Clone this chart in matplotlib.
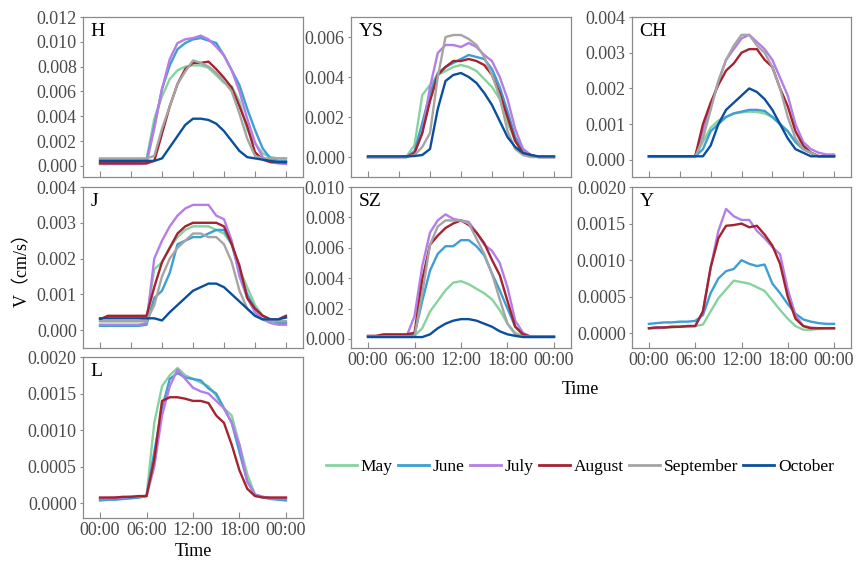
import numpy as np
import matplotlib
matplotlib.use("Agg")
import matplotlib.pyplot as plt
from matplotlib.ticker import FormatStrFormatter
from matplotlib.lines import Line2D

plt.rcParams['font.family'] = ['Liberation Serif', 'DejaVu Serif']

# hourly mean values, 00:00 .. 24:00
hours = np.arange(25)

months = ['May', 'June', 'July', 'August', 'September', 'October']
colors = ['#86d3a0', '#3d9fd3', '#b57de6', '#a3232f', '#a5a5a5', '#0b4f9c']

# ---- H ----
H_may = [0.0005, 0.0005, 0.0005, 0.0005, 0.0005, 0.0005, 0.0005, 0.0038, 0.0056, 0.0070, 0.0077, 0.0080, 0.0081,
         0.0081, 0.0079, 0.0073, 0.0067, 0.0064, 0.0052, 0.0029, 0.0018, 0.0010, 0.0007, 0.0006, 0.0006]
H_jun = [0.0003, 0.0003, 0.0003, 0.0003, 0.0003, 0.0003, 0.0004, 0.0032, 0.0062, 0.0081, 0.0094, 0.0099, 0.0102,
         0.0103, 0.0101, 0.0099, 0.0089, 0.0077, 0.0065, 0.0046, 0.0029, 0.0014, 0.0006, 0.0004, 0.0004]
H_jul = [0.00015, 0.00015, 0.00015, 0.00015, 0.00015, 0.00015, 0.0002, 0.0030, 0.0062, 0.0086, 0.0099, 0.0102, 0.0103,
         0.0105, 0.0102, 0.0096, 0.0089, 0.0077, 0.0060, 0.0038, 0.0019, 0.0007, 0.0003, 0.0002, 0.00015]
H_aug = [0.0002, 0.0002, 0.0002, 0.0002, 0.0002, 0.0002, 0.0002, 0.0004, 0.0026, 0.0048, 0.0066, 0.0078, 0.0083,
         0.0083, 0.0084, 0.0078, 0.0071, 0.0063, 0.0048, 0.0032, 0.0011, 0.0005, 0.0003, 0.0003, 0.0003]
H_sep = [0.0006, 0.0006, 0.0006, 0.0006, 0.0006, 0.0006, 0.0006, 0.0008, 0.0030, 0.0048, 0.0066, 0.0076, 0.0085,
         0.0083, 0.0080, 0.0075, 0.0068, 0.0060, 0.0042, 0.0022, 0.0008, 0.0006, 0.0006, 0.0006, 0.0006]
H_oct = [0.0004, 0.0004, 0.0004, 0.0004, 0.0004, 0.0004, 0.0004, 0.0004, 0.0006, 0.0015, 0.0024, 0.0033, 0.0038,
         0.0038, 0.0037, 0.0034, 0.0028, 0.0020, 0.0012, 0.0007, 0.0006, 0.0005, 0.0004, 0.0003, 0.0003]

# ---- YS ----
YS_may = [0.0, 0.0, 0.0, 0.0, 0.0, 0.00005, 0.0006, 0.0031, 0.0036, 0.0041, 0.0043, 0.0045, 0.0046,
          0.0045, 0.0043, 0.0039, 0.0035, 0.0029, 0.0017, 0.0008, 0.0003, 0.0001, 0.0, 0.0, 0.0]
YS_jun = [0.0, 0.0, 0.0, 0.0, 0.0, 0.0, 0.0003, 0.0017, 0.0032, 0.0042, 0.0045, 0.0047, 0.0049,
          0.0051, 0.0050, 0.0049, 0.0044, 0.0035, 0.0023, 0.0010, 0.0004, 0.0001, 0.0, 0.0, 0.0]
YS_jul = [0.0, 0.0, 0.0, 0.0, 0.0, 0.0, 0.0002, 0.0012, 0.0035, 0.0052, 0.0056, 0.0056, 0.0055,
          0.0057, 0.0055, 0.0051, 0.0048, 0.0040, 0.0029, 0.0014, 0.0004, 0.0001, 0.0, 0.0, 0.0]
YS_aug = [0.0, 0.0, 0.0, 0.0, 0.0, 0.0, 0.0002, 0.0012, 0.0028, 0.0041, 0.0045, 0.0048, 0.0048,
          0.0049, 0.0048, 0.0046, 0.0041, 0.0032, 0.0020, 0.0008, 0.0002, 0.0001, 0.0, 0.0, 0.0]
YS_sep = [0.0, 0.0, 0.0, 0.0, 0.0, 0.0, 0.0001, 0.0005, 0.0012, 0.0040, 0.0060, 0.0061, 0.0061,
          0.0059, 0.0056, 0.0050, 0.0041, 0.0030, 0.0013, 0.0004, 0.0001, 0.0, 0.0, 0.0, 0.0]
YS_oct = [0.00003, 0.00003, 0.00003, 0.00003, 0.00003, 0.00003, 0.00005, 0.0001, 0.0004, 0.0024, 0.0038, 0.0041, 0.0042,
          0.0040, 0.0037, 0.0032, 0.0026, 0.0018, 0.0010, 0.0005, 0.0002, 0.0001, 0.00003, 0.00003, 0.00003]

# ---- CH ----
CH_may = [0.0001, 0.0001, 0.0001, 0.0001, 0.0001, 0.0001, 0.0001, 0.0005, 0.0009, 0.0011, 0.0012, 0.0013, 0.00133,
          0.00135, 0.00134, 0.0013, 0.0012, 0.0010, 0.0008, 0.0005, 0.0003, 0.0002, 0.0001, 0.0001, 0.0001]
CH_jun = [0.0001, 0.0001, 0.0001, 0.0001, 0.0001, 0.0001, 0.0001, 0.0003, 0.0008, 0.0010, 0.0012, 0.0013, 0.00135,
          0.0014, 0.0014, 0.00137, 0.0012, 0.0010, 0.0008, 0.0005, 0.0003, 0.0002, 0.0001, 0.0001, 0.0001]
CH_jul = [0.0001, 0.0001, 0.0001, 0.0001, 0.0001, 0.0001, 0.0001, 0.0008, 0.0015, 0.0022, 0.0028, 0.0031, 0.0034,
          0.0035, 0.0033, 0.0031, 0.0028, 0.0023, 0.0018, 0.0010, 0.0005, 0.0003, 0.0002, 0.00015, 0.00015]
CH_aug = [0.0001, 0.0001, 0.0001, 0.0001, 0.0001, 0.0001, 0.0001, 0.0010, 0.0016, 0.0021, 0.0025, 0.0027, 0.0030,
          0.0031, 0.0031, 0.0028, 0.0026, 0.0020, 0.0015, 0.0008, 0.0004, 0.0002, 0.0001, 0.0001, 0.0001]
CH_sep = [0.00008, 0.00008, 0.00008, 0.00008, 0.00008, 0.00008, 0.00008, 0.0006, 0.0014, 0.0022, 0.0028, 0.0032, 0.0035,
          0.0035, 0.0032, 0.0030, 0.0026, 0.0020, 0.0012, 0.0006, 0.0003, 0.0002, 0.0001, 0.0001, 0.0001]
CH_oct = [0.0001, 0.0001, 0.0001, 0.0001, 0.0001, 0.0001, 0.0001, 0.0001, 0.0004, 0.0010, 0.0014, 0.0016, 0.0018,
          0.0020, 0.0019, 0.0017, 0.0014, 0.0010, 0.0006, 0.0003, 0.0002, 0.0001, 0.0001, 0.0001, 0.0001]

# ---- J ----
J_may = [0.00025, 0.00025, 0.00025, 0.00025, 0.00025, 0.00025, 0.0003, 0.0017, 0.0019, 0.0023, 0.0026, 0.0028, 0.0029,
         0.0029, 0.0029, 0.0028, 0.0027, 0.0024, 0.0017, 0.0012, 0.0007, 0.0004, 0.0003, 0.0002, 0.0002]
J_jun = [0.00012, 0.00012, 0.00012, 0.00012, 0.00012, 0.00012, 0.00015, 0.0009, 0.0011, 0.0016, 0.0024, 0.0025, 0.0026,
         0.0026, 0.0027, 0.0028, 0.0028, 0.0024, 0.0016, 0.0010, 0.0006, 0.0004, 0.0003, 0.0002, 0.0002]
J_jul = [0.00015, 0.00015, 0.00015, 0.00015, 0.00015, 0.00015, 0.0002, 0.0020, 0.0025, 0.0029, 0.0032, 0.0034, 0.0035,
         0.0035, 0.0035, 0.0032, 0.0031, 0.0025, 0.0015, 0.0009, 0.0005, 0.0003, 0.0002, 0.00015, 0.00015]
J_aug = [0.0003, 0.0004, 0.0004, 0.0004, 0.0004, 0.0004, 0.0004, 0.0012, 0.0019, 0.0023, 0.0027, 0.0029, 0.0030,
         0.0030, 0.0030, 0.0030, 0.0029, 0.0024, 0.0018, 0.0009, 0.0006, 0.0004, 0.0003, 0.0003, 0.0004]
J_sep = [0.00025, 0.00025, 0.00025, 0.00025, 0.00025, 0.00025, 0.00025, 0.0007, 0.0015, 0.0020, 0.0023, 0.0025, 0.0027,
         0.0027, 0.0026, 0.0026, 0.0024, 0.0019, 0.0011, 0.0006, 0.0004, 0.0003, 0.00025, 0.00025, 0.00025]
J_oct = [0.00033, 0.00033, 0.00033, 0.00033, 0.00033, 0.00033, 0.00033, 0.00033, 0.00027, 0.0005, 0.0007, 0.0009, 0.0011,
         0.0012, 0.0013, 0.0013, 0.0012, 0.0010, 0.0008, 0.0006, 0.0004, 0.0003, 0.0003, 0.0003, 0.00035]

# ---- SZ ----
SZ_may = [0.00015, 0.00015, 0.00015, 0.00015, 0.00015, 0.00015, 0.0002, 0.0007, 0.0018, 0.0025, 0.0032, 0.0037, 0.0038,
          0.0036, 0.0033, 0.0030, 0.0026, 0.0019, 0.0010, 0.0004, 0.0002, 0.00015, 0.00015, 0.00015, 0.00015]
SZ_jun = [0.00015, 0.00015, 0.00015, 0.00015, 0.00015, 0.00015, 0.0003, 0.0025, 0.0045, 0.0056, 0.0061, 0.0061, 0.0065,
          0.0065, 0.0061, 0.0055, 0.0043, 0.0032, 0.0020, 0.0008, 0.0003, 0.00015, 0.00015, 0.00015, 0.00015]
SZ_jul = [0.00015, 0.00015, 0.00015, 0.00015, 0.00015, 0.0002, 0.0015, 0.0048, 0.0070, 0.0078, 0.0082, 0.0079, 0.0078,
          0.0077, 0.0070, 0.0062, 0.0058, 0.0050, 0.0034, 0.0012, 0.0004, 0.00015, 0.00015, 0.00015, 0.00015]
SZ_aug = [0.0002, 0.0002, 0.0003, 0.0003, 0.0003, 0.0003, 0.0004, 0.0039, 0.0062, 0.0068, 0.0073, 0.0076, 0.0078,
          0.0075, 0.0070, 0.0063, 0.0052, 0.0042, 0.0025, 0.0008, 0.0003, 0.00015, 0.00015, 0.00015, 0.00015]
SZ_sep = [0.00015, 0.00015, 0.00015, 0.00015, 0.00015, 0.00015, 0.00015, 0.0030, 0.0062, 0.0074, 0.0078, 0.0078, 0.0078,
          0.0076, 0.0066, 0.0056, 0.0043, 0.0026, 0.0010, 0.0003, 0.00015, 0.00015, 0.00015, 0.00015, 0.00015]
SZ_oct = [0.00012, 0.00012, 0.00012, 0.00012, 0.00012, 0.00012, 0.00012, 0.00012, 0.0003, 0.0007, 0.0010, 0.0012, 0.0013,
          0.0013, 0.0012, 0.0010, 0.0008, 0.0005, 0.0003, 0.0002, 0.00012, 0.00012, 0.00012, 0.00012, 0.00012]

# ---- Y ----
Y_may = [0.00007, 0.00007, 0.00008, 0.00008, 0.00009, 0.00009, 0.0001, 0.00012, 0.0003, 0.00048, 0.0006, 0.00072, 0.0007,
         0.00068, 0.00063, 0.00058, 0.00045, 0.00032, 0.0002, 0.0001, 0.00005, 0.00005, 0.00006, 0.00007, 0.00007]
Y_jun = [0.00013, 0.00014, 0.00015, 0.00015, 0.00016, 0.00016, 0.00017, 0.00025, 0.00055, 0.00075, 0.00085, 0.00088, 0.0010,
         0.00095, 0.00092, 0.00094, 0.00068, 0.00055, 0.0004, 0.00027, 0.00019, 0.00016, 0.00014, 0.00013, 0.00013]
Y_jul = [0.00007, 0.00008, 0.00008, 0.00009, 0.00009, 0.0001, 0.0001, 0.0003, 0.0009, 0.0014, 0.0017, 0.0016, 0.00155,
         0.00155, 0.0014, 0.0013, 0.00118, 0.00108, 0.0006, 0.00025, 0.0001, 0.00008, 0.00007, 0.00007, 0.00007]
Y_aug = [0.00007, 0.00008, 0.00008, 0.00009, 0.00009, 0.0001, 0.0001, 0.0003, 0.0009, 0.0013, 0.00147, 0.00148, 0.0015,
         0.00145, 0.00147, 0.00135, 0.0012, 0.00095, 0.0005, 0.0002, 0.0001, 0.00007, 0.00007, 0.00007, 0.00007]

# ---- L ----
L_may = [0.00005, 0.00006, 0.00006, 0.00007, 0.00007, 0.00008, 0.0001, 0.0011, 0.0016, 0.00175, 0.00185, 0.00175, 0.0017,
         0.00165, 0.0016, 0.00147, 0.0013, 0.0012, 0.0008, 0.0004, 0.00012, 0.00009, 0.00007, 0.00006, 0.00005]
L_jun = [0.00004, 0.00005, 0.00005, 0.00006, 0.00007, 0.00008, 0.0001, 0.0007, 0.0013, 0.0017, 0.00178, 0.00172, 0.0017,
         0.00168, 0.00157, 0.0015, 0.0013, 0.0011, 0.0007, 0.0003, 0.00012, 0.00008, 0.00006, 0.00005, 0.00004]
L_jul = [0.00007, 0.00007, 0.00008, 0.00008, 0.00009, 0.00009, 0.0001, 0.0005, 0.0012, 0.0016, 0.00183, 0.0017, 0.00158,
         0.00153, 0.0015, 0.0014, 0.0013, 0.0011, 0.0008, 0.0003, 0.00012, 0.00009, 0.00007, 0.00007, 0.00007]
L_aug = [0.00008, 0.00008, 0.00008, 0.00009, 0.00009, 0.0001, 0.0001, 0.0006, 0.0014, 0.00145, 0.00145, 0.00143, 0.0014,
         0.0014, 0.00137, 0.0012, 0.0011, 0.0008, 0.00045, 0.0002, 0.0001, 0.00008, 0.00008, 0.00008, 0.00008]

# name, series, y-limits, y-ticks, tick format, axes rect in pixels (left, top, width, height), time labels
panels = [
    ('H', [H_may, H_jun, H_jul, H_aug, H_sep, H_oct], (-0.0009, 0.012), np.arange(0, 0.0121, 0.002), '%.3f', (83, 17, 220, 160), False),
    ('YS', [YS_may, YS_jun, YS_jul, YS_aug, YS_sep, YS_oct], (-0.001, 0.007), np.arange(0, 0.0061, 0.002), '%.3f', (351, 17, 220, 160), False),
    ('CH', [CH_may, CH_jun, CH_jul, CH_aug, CH_sep, CH_oct], (-0.00048, 0.004), np.arange(0, 0.00401, 0.001), '%.3f', (632, 17, 219, 160), False),
    ('J', [J_may, J_jun, J_jul, J_aug, J_sep, J_oct], (-0.0005, 0.004), np.arange(0, 0.00401, 0.001), '%.3f', (83, 187, 220, 161), False),
    ('SZ', [SZ_may, SZ_jun, SZ_jul, SZ_aug, SZ_sep, SZ_oct], (-0.0006, 0.010), np.arange(0, 0.01001, 0.002), '%.3f', (351, 187, 220, 161), True),
    ('Y', [Y_may, Y_jun, Y_jul, Y_aug], (-0.0002, 0.002), np.arange(0, 0.002001, 0.0005), '%.4f', (632, 187, 219, 161), True),
    ('L', [L_may, L_jun, L_jul, L_aug], (-0.0002, 0.002), np.arange(0, 0.002001, 0.0005), '%.4f', (83, 357, 220, 161), True),
]

W, Hpx = 856, 565
fig = plt.figure(figsize=(W / 100, Hpx / 100), dpi=100)

spine_col = '#8a8a8a'
tick_col = '#4a4a4a'
fs = 13

for name, series, ylim, yticks, fmt, (l, t, w, h), labelled in panels:
    ax = fig.add_axes([l / W, 1 - (t + h) / Hpx, w / W, h / Hpx])
    for vals, c in zip(series, colors):
        ax.plot(hours, vals, color=c, lw=1.7)
    ax.set_xlim(-2.2, 26.2)
    ax.set_ylim(*ylim)
    ax.set_yticks(yticks)
    ax.yaxis.set_major_formatter(FormatStrFormatter(fmt))
    if labelled:
        ax.set_xticks([0, 6, 12, 18, 24])
        ax.set_xticklabels(['00:00', '06:00', '12:00', '18:00', '00:00'])
    else:
        ax.set_xticks([0, 4, 8, 12, 16, 20, 24])
        ax.set_xticklabels([])
    ax.tick_params(axis='x', direction='in', length=4, width=0.8, color=spine_col,
                   labelsize=fs, labelcolor=tick_col, pad=3)
    ax.tick_params(axis='y', direction='out', length=2.5, width=0.8, color=spine_col,
                   labelsize=fs, labelcolor=tick_col, pad=2)
    for s in ax.spines.values():
        s.set_color(spine_col)
        s.set_linewidth(0.9)
    ax.text(0.035, 0.965, name, transform=ax.transAxes, ha='left', va='top', fontsize=14, color='black')

fig.text(22 / W, 1 - 265 / Hpx, 'V（cm/s）', rotation=90, ha='center', va='center', fontsize=13,
         family=['Liberation Serif', 'Noto Sans CJK SC'])
fig.text(193 / W, 1 - 551 / Hpx, 'Time', ha='center', va='center', fontsize=13)
fig.text(580 / W, 1 - 389 / Hpx, 'Time', ha='center', va='center', fontsize=13)

handles = [Line2D([], [], color=c, lw=2) for c in colors]
fig.legend(handles, months, loc='center', bbox_to_anchor=(580 / W, 1 - 467 / Hpx), ncol=6,
           frameon=False, fontsize=12.5, handlelength=1.8, handletextpad=0.2, columnspacing=0.3,
           borderpad=0)

fig.savefig('out.png', dpi=100)
